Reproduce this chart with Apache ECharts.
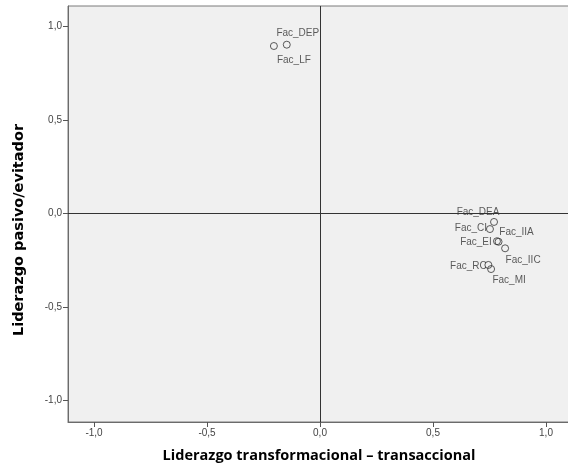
<!DOCTYPE html>
<html>
<head>
<meta charset="utf-8">
<script src="https://cdn.jsdelivr.net/npm/echarts@6/dist/echarts.min.js"></script>
<style>html,body{margin:0;padding:0;background:#fff}#c{width:568px;height:466px}</style>
</head>
<body>
<div id="c"></div>
<script>
const names = ['Fac_DEP','Fac_LF','Fac_DEA','Fac_CI','Fac_IIA','Fac_EI','Fac_IIC','Fac_RC','Fac_MI'];
const xValues = [-0.147,-0.204,0.770,0.752,0.790,0.783,0.819,0.745,0.757];
const yValues = [0.903,0.896,-0.045,-0.083,-0.151,-0.148,-0.186,-0.275,-0.297];
const tickValues = [-1,-0.5,0,0.5,1];
const tickLabels = ['-1,0','-0,5','0,0','0,5','1,0'];
const xTitle = 'Liderazgo transformacional – transaccional';
const yTitle = 'Liderazgo pasivo/evitador';

// label placement (style only)
const labelOffsets = {
  'Fac_DEP':[11,-11],'Fac_LF':[20,14],'Fac_DEA':[-16,-10],'Fac_CI':[-19,-1],
  'Fac_IIA':[18,-10],'Fac_EI':[-21,1],'Fac_IIC':[18,12],'Fac_RC':[-20,1],'Fac_MI':[18,11]
};

const data = names.map((n,i)=>({
  name:n, value:[xValues[i],yValues[i]],
  label:{offset:labelOffsets[n]}
}));

function fmt(v){
  const i = tickValues.findIndex(t=>Math.abs(t-v)<1e-9);
  return i>=0 ? tickLabels[i] : '';
}

const axisCommon = {
  type:'value',
  splitLine:{show:false},
  axisLine:{show:true,onZero:false,lineStyle:{color:'#6b6b6b',width:1}},
  axisTick:{show:true,length:5,customValues:tickValues,lineStyle:{color:'#555'}},
  axisLabel:{customValues:tickValues,formatter:fmt,fontFamily:'Liberation Sans',fontSize:10,color:'#444'}
};

const chart = echarts.init(document.getElementById('c'),null,{renderer:'canvas'});
chart.setOption({
  animation:false,
  grid:{left:68,top:6,width:504,height:416,show:true,backgroundColor:'#f0f0f0',borderColor:'#7a7a7a',borderWidth:1,outerBoundsMode:'none',containLabel:false},
  xAxis:Object.assign({},axisCommon,{min:-1.115,max:1.115,
    axisLabel:Object.assign({},axisCommon.axisLabel,{margin:6})}),
  yAxis:Object.assign({},axisCommon,{min:-1.115,max:1.11,
    axisLabel:Object.assign({},axisCommon.axisLabel,{margin:6})}),
  graphic:[
    {type:'text',x:319,y:456,silent:true,
      style:{text:xTitle,font:'bold 14.5px "Open Sans"',fill:'#000',textAlign:'center',textVerticalAlign:'middle'}},
    {type:'text',x:19,y:230,rotation:Math.PI/2,silent:true,
      style:{text:yTitle,font:'bold 14.5px "DejaVu Sans"',fill:'#000',textAlign:'center',textVerticalAlign:'middle'}}
  ],
  series:[{
    type:'scatter',
    data:data,
    symbol:'circle',
    symbolSize:7,
    itemStyle:{color:'rgba(0,0,0,0)',borderColor:'#333',borderWidth:1},
    label:{show:true,position:'inside',formatter:'{b}',fontFamily:'Liberation Sans',fontSize:10,color:'#333'},
    emphasis:{disabled:true},
    markLine:{
      silent:true,symbol:'none',animation:false,
      label:{show:false},
      lineStyle:{color:'#333',width:1,type:'solid'},
      data:[{xAxis:0},{yAxis:0}]
    }
  }]
});
</script>
</body>
</html>
